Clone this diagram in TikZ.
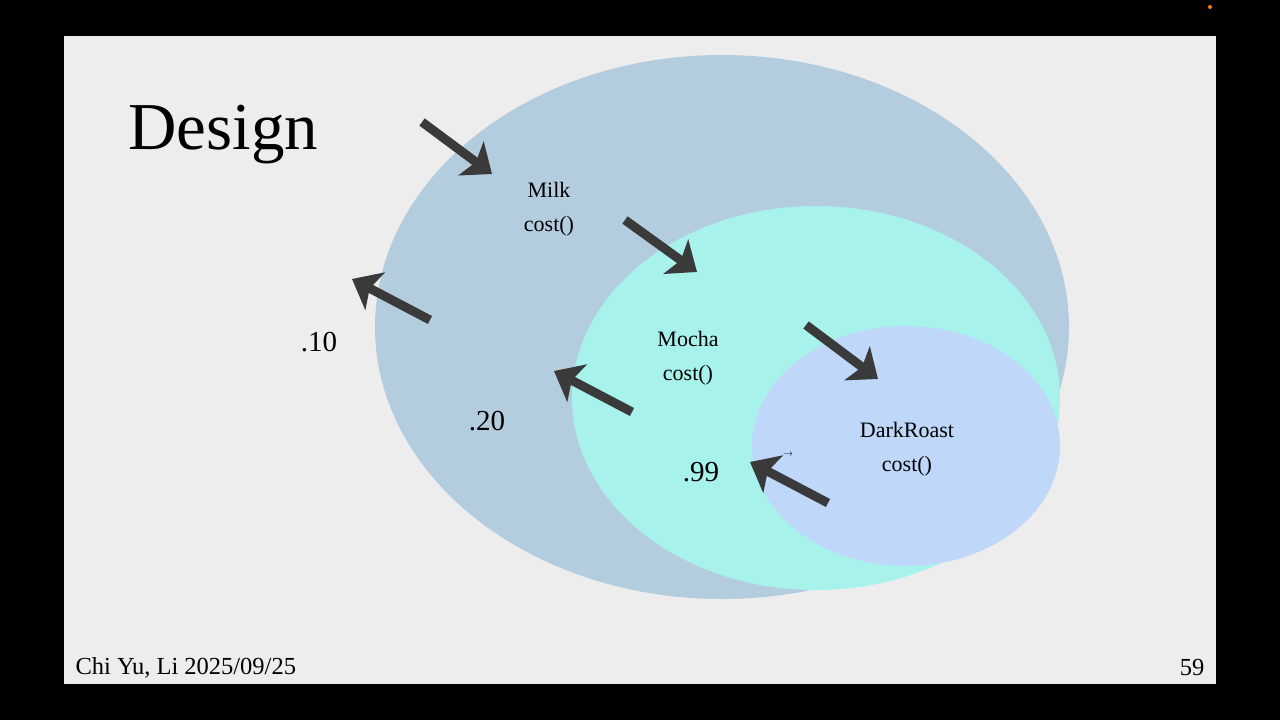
\documentclass[tikz,border=0pt]{standalone}
\usepackage{fontspec}
\setmainfont{Liberation Serif}
\usetikzlibrary{arrows.meta}
\definecolor{slide}{HTML}{EDEDED}
\definecolor{outerc}{HTML}{B3CDDF}
\definecolor{midc}{HTML}{A8F2EC}
\definecolor{innerc}{HTML}{BFD8FA}
\definecolor{arr}{HTML}{3A3A3A}
\tikzset{fat/.style={arr,line width=9pt,-{Stealth[length=26pt,width=42pt,inset=6pt]}},
lbl/.style={font=\fontsize{22}{34}\selectfont,align=center},
num/.style={font=\fontsize{29}{32}\selectfont}}
\begin{document}
\begin{tikzpicture}[x=1pt,y=-1pt]
\fill[black] (0,0) rectangle (1280,720);
\fill[slide] (64,36) rectangle (1216,684);
\fill[orange] (1210,7) circle (2);
\fill[outerc] (722,327) ellipse [x radius=347,y radius=272];
\begin{scope}
\clip (0,0) rectangle (1060,720);
\fill[midc] (816,398) ellipse [x radius=244,y radius=192];
\fill[innerc] (906,446) ellipse [x radius=154,y radius=120];
\end{scope}
\node[anchor=west,font=\fontsize{67}{72}\selectfont] (t) at (125,135) {Design};
\node[lbl] (milk) at (549,209) {Milk\\cost()};
\node[lbl] (mocha) at (688,358) {Mocha\\cost()};
\node[lbl] (dr) at (907,449) {DarkRoast\\cost()};
\node[num] (n1) at (319,342) {.10};
\node[num] (n2) at (487,421) {.20};
\node[num] (n3) at (701,472) {.99};
\node[font=\fontsize{10}{10}\selectfont] (sm) at (788,455) {$\rightarrow$};
\coordinate (a1s) at (422,122); \coordinate (a1e) at (492,174);
\coordinate (a2s) at (625,220); \coordinate (a2e) at (697,272);
\coordinate (a3s) at (806,325); \coordinate (a3e) at (878,379);
\coordinate (a4s) at (430,320); \coordinate (a4e) at (352,279);
\coordinate (a5s) at (632,412); \coordinate (a5e) at (554,371);
\coordinate (a6s) at (828,503); \coordinate (a6e) at (750,462);
\foreach \i in {1,...,6} \draw[fat] (a\i s) -- (a\i e);
\node[anchor=west,font=\fontsize{24.5}{28}\selectfont] (f1) at (72,668) {Chi Yu, Li 2025/09/25};
\node[anchor=east,font=\fontsize{24.5}{28}\selectfont] (f2) at (1208,668) {59};
\end{tikzpicture}
\end{document}
